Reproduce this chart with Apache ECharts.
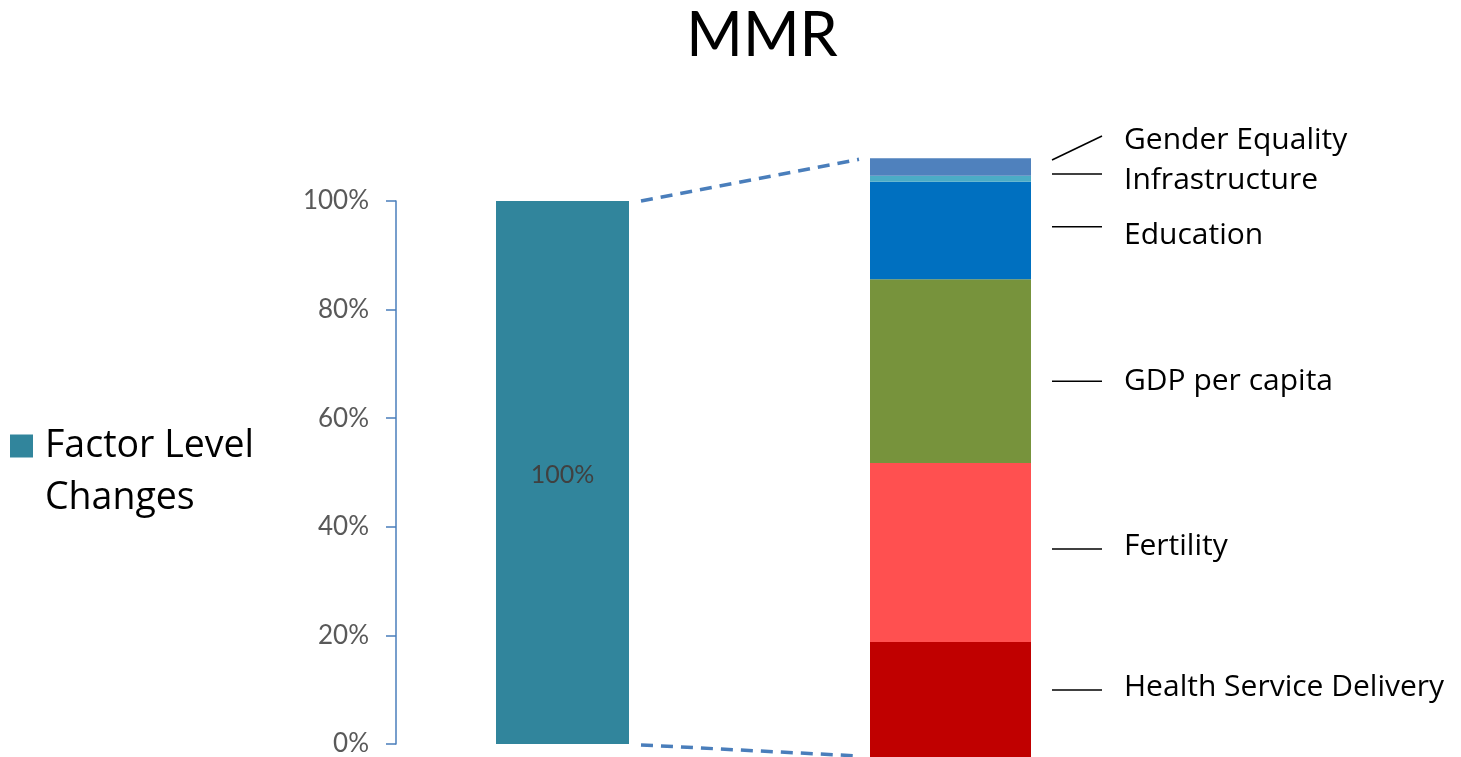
<!DOCTYPE html>
<html>
<head>
<meta charset="utf-8">
<title>MMR</title>
<script src="https://cdn.jsdelivr.net/npm/echarts@6/dist/echarts.min.js"></script>
<style>
  html, body { margin: 0; padding: 0; background: #ffffff; }
  #chart { width: 1461px; height: 757px; }
</style>
</head>
<body>
<div id="chart"></div>
<script>
// ---- data ----
const chartTitle = 'MMR';
const columns = ['Factor Level Changes', 'Factors'];
const totalName = 'Factor Level Changes';
const totalValues = [100, '-'];
const factorNames = ['Health Service Delivery', 'Fertility', 'GDP per capita', 'Education', 'Infrastructure', 'Gender Equality'];
const factorShares = [19.2, 29.9, 30.7, 16.3, 1.0, 2.9];
const yTickLabels = ['0%', '20%', '40%', '60%', '80%', '100%'];

// ---- styling / layout ----
const FONT = 'Lato, "Open Sans", sans-serif';
const WIDE_FONT = '"Open Sans", Lato, sans-serif';
const totalColor = '#31859C';
const factorColors = ['#C00000', '#FF5050', '#77933C', '#0070C0', '#4BACC6', '#4F81BD'];
const leftBarWidth = 133;
const rightBarWidth = 161;
// the breakdown column is drawn on its own hidden scale, a little taller than the total column
const breakdownScale = { min: 2.17, max: 92.87 };
// leader-line offsets in px: [line start dy, line end dy, text dy] relative to the segment middle
const leaderNudge = [[-9.5, -9.5, -12], [-3.6, -3.6, -6], [10, 10, 10], [-3.7, -3.7, 4.5], [-4.7, -4.7, 2], [-7, -31, -27]];

const chart = echarts.init(document.getElementById('chart'), null, { renderer: 'canvas' });

const series = [{
  name: totalName,
  type: 'bar',
  xAxisIndex: 0,
  yAxisIndex: 0,
  barWidth: leftBarWidth,
  clip: false,
  data: totalValues,
  itemStyle: { color: totalColor },
  label: {
    show: true,
    position: 'inside',
    offset: [0, 2],
    formatter: p => p.value + '%',
    fontFamily: FONT,
    fontSize: 25,
    color: '#404040'
  }
}];
factorNames.forEach((name, i) => {
  series.push({
    name: name,
    type: 'bar',
    stack: 'factors',
    xAxisIndex: 1,
    yAxisIndex: 1,
    barWidth: rightBarWidth,
    clip: false,
    data: ['-', factorShares[i]],
    itemStyle: { color: factorColors[i] }
  });
});

const option = {
  animation: false,
  backgroundColor: '#ffffff',
  textStyle: { fontFamily: FONT },
  title: {
    text: chartTitle,
    left: 762,
    top: 6,
    padding: 0,
    textAlign: 'center',
    textStyle: { fontFamily: FONT, fontSize: 61, fontWeight: 'normal', color: '#000000' }
  },
  legend: {
    data: [totalName],
    orient: 'vertical',
    left: 10,
    top: 368,
    padding: 0,
    itemWidth: 23,
    itemHeight: 23,
    icon: 'rect',
    // blank first line keeps the first text line level with the marker
    formatter: () => '\nFactor Level\nChanges',
    textStyle: { fontFamily: WIDE_FONT, fontSize: 37.5, lineHeight: 52, color: '#000000', padding: [0, 0, 0, 7] },
    selectedMode: false
  },
  grid: { left: 368.5, right: 316.5, top: 201, bottom: 13, containLabel: false },
  xAxis: [
    { type: 'category', data: columns, show: false },
    { type: 'category', data: columns, show: false }
  ],
  yAxis: [{
    type: 'value',
    min: 0,
    max: 100,
    interval: 20,
    offset: -27.5,
    axisLine: { show: true, lineStyle: { color: '#4A7EBB', width: 1.5 } },
    axisTick: { show: true, inside: false, length: 10, lineStyle: { color: '#4A7EBB', width: 1.5 } },
    splitLine: { show: false },
    axisLabel: {
      margin: 27,
      fontFamily: FONT,
      fontSize: 26,
      color: '#595959',
      formatter: v => yTickLabels[Math.round(v / 20)]
    }
  }, {
    type: 'value',
    min: breakdownScale.min,
    max: breakdownScale.max,
    show: false,
    splitLine: { show: false }
  }],
  series: series
};

chart.setOption(option);

// connector lines and leader labels, placed through the chart's own coordinate conversion
function decorate() {
  const total = factorShares.reduce((a, b) => a + b, 0);
  const lTop = chart.convertToPixel({ seriesIndex: 0 }, [0, totalValues[0]]);
  const lBot = chart.convertToPixel({ seriesIndex: 0 }, [0, 0]);
  const rTop = chart.convertToPixel({ seriesIndex: 1 }, [1, total]);
  const rBot = chart.convertToPixel({ seriesIndex: 1 }, [1, 0]);
  const lRight = lTop[0] + leftBarWidth / 2;
  const rLeft = rTop[0] - rightBarWidth / 2;
  const rRight = rTop[0] + rightBarWidth / 2;

  const dash = { stroke: '#4A7EBB', lineWidth: 3.5, lineDash: [12, 8] };
  const elements = [
    { type: 'line', shape: { x1: lRight + 12, y1: lTop[1], x2: rLeft - 11, y2: rTop[1] + 1 }, style: dash, silent: true },
    { type: 'line', shape: { x1: lRight + 12, y1: lBot[1] + 1, x2: rLeft - 11, y2: rBot[1] - 1 }, style: dash, silent: true }
  ];

  let base = 0;
  factorNames.forEach((name, i) => {
    const mid = base + factorShares[i] / 2;
    base += factorShares[i];
    const y = chart.convertToPixel({ seriesIndex: 1 + i }, [1, mid])[1];
    const n = leaderNudge[i];
    elements.push({
      type: 'line',
      shape: { x1: rRight + 21, y1: y + n[0], x2: rRight + 71, y2: y + n[1] },
      style: { stroke: '#000000', lineWidth: 1.5 },
      silent: true
    });
    elements.push({
      type: 'text',
      x: rRight + 93,
      y: y + n[2],
      style: { text: name, font: '30px ' + WIDE_FONT, fill: '#000000', textAlign: 'left', textVerticalAlign: 'middle' },
      silent: true
    });
  });

  chart.setOption({ graphic: { elements: elements } });
}
decorate();
</script>
</body>
</html>
